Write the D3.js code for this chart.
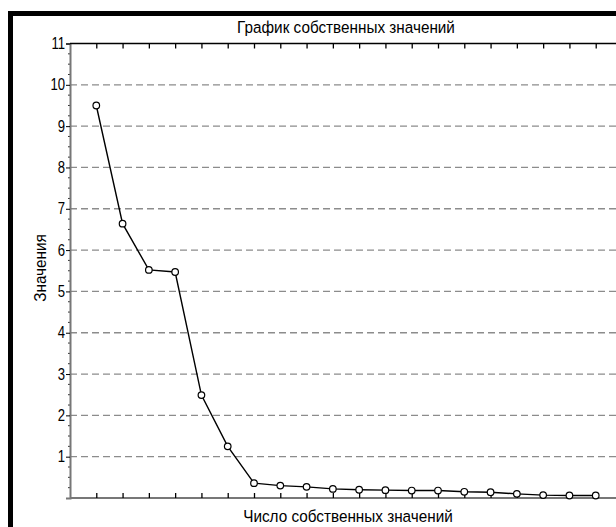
<!DOCTYPE html>
<html><head><meta charset="utf-8">
<script src="https://cdn.jsdelivr.net/npm/d3@7"></script>
<style>
html,body{margin:0;padding:0;background:#fff;}
svg{display:block;}
text{font-family:"Liberation Sans Narrow","Arial Narrow","Liberation Sans",Arial,sans-serif;fill:#000;}
</style></head>
<body>
<script>
const title = "График собственных значений";
const xTitle = "Число собственных значений";
const yTitle = "Значения";
const components = [1,2,3,4,5,6,7,8,9,10,11,12,13,14,15,16,17,18,19,20];
const eigenvalues = [9.50,6.64,5.52,5.47,2.49,1.25,0.36,0.30,0.27,0.22,0.20,0.19,0.18,0.18,0.15,0.14,0.10,0.07,0.06,0.06];
const yTicks = [1,2,3,4,5,6,7,8,9,10,11];
const gridValues = [1,2,3,4,5,6,7,8,9,10];

const W = 616, H = 527;
const svg = d3.select("body").append("svg").attr("width", W).attr("height", H);

const x = d3.scaleLinear().domain([0, 21]).range([70, 622]);
const y = d3.scaleLinear().domain([0, 11]).range([498, 43.5]);

// frame
svg.append("rect").attr("x", 8).attr("y", 11).attr("width", W - 8).attr("height", 5).attr("fill", "#000");
svg.append("rect").attr("x", 8).attr("y", 11).attr("width", 5).attr("height", H - 11).attr("fill", "#000");

// gridlines
svg.append("g").selectAll("line").data(gridValues).join("line")
  .attr("x1", x(0)).attr("x2", W)
  .attr("y1", d => y(d)).attr("y2", d => y(d))
  .attr("stroke", "#8c8c8c").attr("stroke-width", 1.3)
  .attr("stroke-dasharray", "7,4");

// minor y ticks
const minor = d3.range(0.25, 11, 0.25).filter(v => Math.abs(v - Math.round(v)) > 1e-6);
svg.append("g").selectAll("line").data(minor).join("line")
  .attr("x1", x(0) - 2).attr("x2", x(0) + 1)
  .attr("y1", d => y(d)).attr("y2", d => y(d))
  .attr("stroke", "#333").attr("stroke-width", 1);

// left axis
const sx = 0.82;
const yAxis = d3.axisLeft(y).tickValues(yTicks).tickSize(4).tickPadding(3).tickFormat(d3.format("d"));
const gy = svg.append("g").attr("transform", `translate(${x(0)},0)`).call(yAxis);
gy.select(".domain").attr("stroke", "#777").attr("stroke-width", 2);
gy.selectAll(".tick line").attr("stroke", "#000");
gy.selectAll(".tick text").attr("font-size", 16).attr("fill", "#000")
  .attr("x", -5 / sx).attr("transform", `scale(${sx},1)`);

// bottom axis
const xAxis = d3.axisBottom(x).tickValues(components).tickSize(-5).tickFormat("");
const gx = svg.append("g").attr("transform", `translate(0,${y(0)})`).call(xAxis);
gx.select(".domain").attr("stroke", "#777").attr("stroke-width", 2).attr("d", `M${x(0)},0H${W}`);
gx.selectAll(".tick line").attr("stroke", "#000").attr("stroke-width", 1.3);

// top axis
const tAxis = d3.axisTop(x).tickValues(components).tickSize(-5).tickFormat("");
const gt = svg.append("g").attr("transform", `translate(0,${y(11)})`).call(tAxis);
gt.select(".domain").attr("stroke", "#000").attr("stroke-width", 1.5).attr("d", `M${x(0)},0H${W}`);
gt.selectAll(".tick line").attr("stroke", "#000").attr("stroke-width", 1.3);

// line
const data = components.map((c, i) => ({c, v: eigenvalues[i]}));
svg.append("path").datum(data)
  .attr("fill", "none").attr("stroke", "#000").attr("stroke-width", 1.4)
  .attr("d", d3.line().x(d => x(d.c)).y(d => y(d.v)));

svg.append("g").selectAll("circle").data(data).join("circle")
  .attr("cx", d => x(d.c)).attr("cy", d => y(d.v)).attr("r", 3.3)
  .attr("fill", "#fff").attr("stroke", "#000").attr("stroke-width", 1.2);

// titles
const ts = 0.9;
svg.append("text").attr("transform", `translate(346,33) scale(${ts},1)`).attr("text-anchor", "middle")
  .attr("font-size", 17).text(title);
svg.append("text").attr("transform", `translate(348,522) scale(${ts},1)`).attr("text-anchor", "middle")
  .attr("font-size", 17).text(xTitle);
svg.append("text").attr("transform", `translate(46,268) rotate(-90) scale(${ts},1)`).attr("text-anchor", "middle")
  .attr("font-size", 17).text(yTitle);
</script>
</body></html>
